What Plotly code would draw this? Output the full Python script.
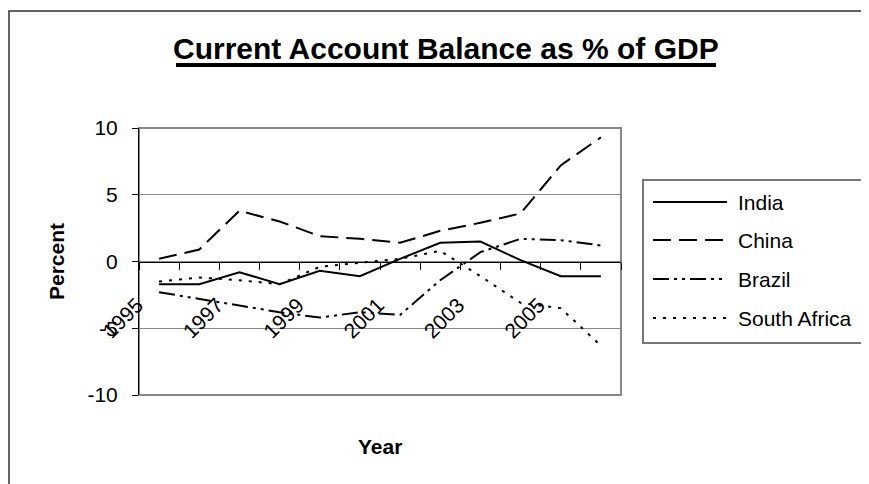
import plotly.graph_objects as go

# data (% of GDP)
years = ["1995", "1996", "1997", "1998", "1999", "2000",
         "2001", "2002", "2003", "2004", "2005", "2006"]
year_labels = ["1995", "", "1997", "", "1999", "", "2001", "", "2003", "", "2005", ""]
india = [-1.7, -1.7, -0.8, -1.7, -0.7, -1.1, 0.2, 1.4, 1.5, 0.1, -1.1, -1.1]
china = [0.2, 0.9, 3.8, 3.0, 1.9, 1.7, 1.4, 2.3, 2.9, 3.6, 7.2, 9.3]
brazil = [-2.3, -2.8, -3.3, -3.8, -4.2, -3.8, -4.0, -1.4, 0.7, 1.7, 1.6, 1.2]
south_africa = [-1.5, -1.2, -1.4, -1.7, -0.4, -0.1, 0.2, 0.8, -1.1, -3.1, -3.5, -6.3]
y_ticks = [-10, -5, 0, 5, 10]
y_tick_labels = ["-10", "-5", "0", "5", "10"]

series_names = ["India", "China", "Brazil", "South Africa"]
series_values = [india, china, brazil, south_africa]
series_dash = ["solid", "18px,8px", "16px,5px,3px,5px,3px,5px", "3px,7px"]

FONT = "Liberation Sans, Arial, sans-serif"

# plot area in page pixels; the page body adds an 8px margin
W, H = 869, 484
OFF = 8
L, R, T, B = 139, 621, 128, 395


def px(x):
    return (x - L) / (R - L)


def py(y):
    return (B - y) / (B - T)


fig = go.Figure()

# Add the four series
for name, vals, dash in zip(series_names, series_values, series_dash):
    fig.add_trace(go.Scatter(x=years, y=vals, mode='lines', name=name,
                             line=dict(color='black', width=2, dash=dash)))

shapes = [
    # outer chart border
    dict(type='rect', xref='paper', yref='paper', x0=px(9), x1=px(890), y0=py(11), y1=py(505),
         line=dict(color='#303030', width=1.5), layer='below'),
    # plot area border
    dict(type='rect', xref='paper', yref='paper', x0=0, x1=1, y0=0, y1=1,
         line=dict(color='#888888', width=2), layer='below'),
    # title underline
    dict(type='line', xref='paper', yref='paper', x0=px(176), x1=px(716), y0=py(65), y1=py(65),
         line=dict(color='black', width=4)),
    # legend box
    dict(type='rect', xref='paper', yref='paper', x0=px(643), x1=px(900), y0=py(180), y1=py(343),
         line=dict(color='#777777', width=2)),
]

annotations = [
    dict(text='<b>Current Account Balance as % of GDP</b>', xref='paper', yref='paper',
         x=px(446), y=py(49), xanchor='center', yanchor='middle', showarrow=False,
         font=dict(size=30, family=FONT)),
    dict(text='<b>Percent</b>', xref='paper', yref='paper', x=px(56), y=py(262),
         xanchor='center', yanchor='middle', textangle=-90, showarrow=False,
         font=dict(size=21, family=FONT)),
    dict(text='<b>Year</b>', xref='paper', yref='paper', x=px(380), y=py(446),
         xanchor='center', yanchor='middle', showarrow=False,
         font=dict(size=21, family=FONT)),
]

# hand-drawn legend, like the Excel one
legend_y = [202, 240, 279, 318]
for name, dash, ly in zip(series_names, series_dash, legend_y):
    shapes.append(dict(type='line', xref='paper', yref='paper', x0=px(653), x1=px(727),
                       y0=py(ly), y1=py(ly), line=dict(color='black', width=2, dash=dash)))
    annotations.append(dict(text=name, xref='paper', yref='paper', x=px(736), y=py(ly),
                            xanchor='left', yanchor='middle', showarrow=False,
                            font=dict(size=21, family=FONT)))

fig.update_layout(
    width=W, height=H, autosize=False,
    margin=dict(l=L - OFF, r=W - R + OFF, t=T - OFF, b=H - B + OFF, pad=0),
    paper_bgcolor='white', plot_bgcolor='white',
    showlegend=False,
    font=dict(family=FONT, color='black'),
    shapes=shapes, annotations=annotations,
)

fig.update_yaxes(range=[-10, 10], tickvals=y_ticks, ticktext=y_tick_labels, showgrid=True,
                 gridcolor='#888888', gridwidth=1, zeroline=False,
                 showline=True, linecolor='black', linewidth=1,
                 ticks='outside', ticklen=6, tickcolor='black',
                 tickfont=dict(size=21), ticklabelstandoff=10)

fig.update_xaxes(type='category', categoryarray=years, range=[-0.5, 11.5],
                 tickvals=years, ticktext=year_labels, tickson='boundaries',
                 ticks='outside', ticklen=7, tickcolor='black',
                 showline=True, linecolor='black', linewidth=1,
                 showgrid=False, zeroline=False,
                 anchor='free', position=0.5, tickangle=-45,
                 tickfont=dict(size=21), ticklabelstandoff=22, ticklabelshift=-22)

fig.write_html("out.html")
